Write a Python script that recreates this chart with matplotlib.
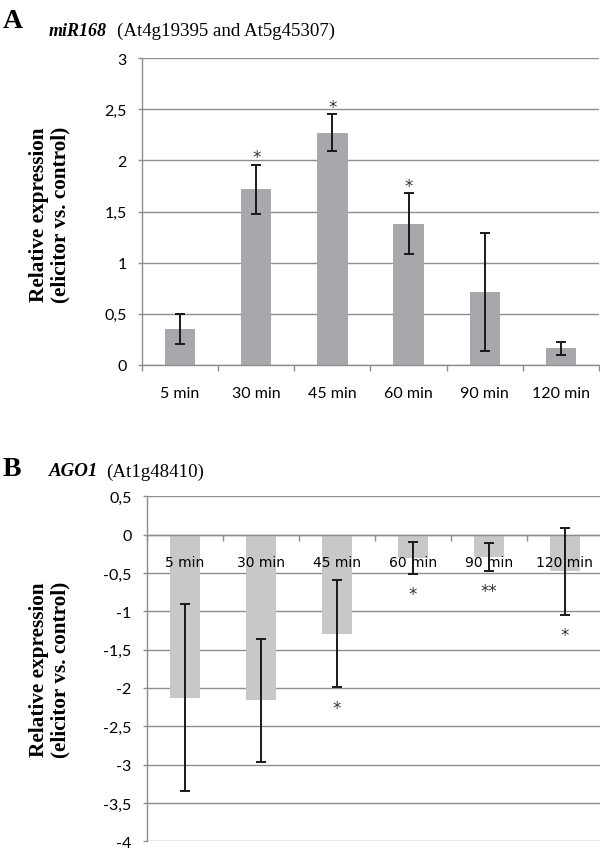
import matplotlib
matplotlib.use("Agg")
import matplotlib.pyplot as plt
import numpy as np

# values
times = ["5 min", "30 min", "45 min", "60 min", "90 min", "120 min"]

mir168 = [0.35, 1.72, 2.27, 1.38, 0.71, 0.16]
mir168_err = [0.145, 0.24, 0.18, 0.30, 0.58, 0.065]
mir168_sig = ["", "*", "*", "*", "", ""]
mir168_ticks = [0, 0.5, 1, 1.5, 2, 2.5, 3]
mir168_ticklabels = ["0", "0,5", "1", "1,5", "2", "2,5", "3"]

ago1 = [-2.13, -2.16, -1.29, -0.30, -0.29, -0.48]
ago1_err = [1.22, 0.80, 0.70, 0.21, 0.18, 0.565]
ago1_sig = ["", "", "*", "*", "**", "*"]
ago1_ticks = [-4, -3.5, -3, -2.5, -2, -1.5, -1, -0.5, 0, 0.5]
ago1_ticklabels = ["-4", "-3,5", "-3", "-2,5", "-2", "-1,5", "-1", "-0,5", "0", "0,5"]

TICK_FONT = "Lato"
SERIF = "Liberation Serif"
GRID = "#8e8e8e"

W, H = 600, 853
fig = plt.figure(figsize=(W / 100, H / 100), dpi=100)


def px_axes(left, top, right, bottom):
    return fig.add_axes([left / W, 1 - bottom / H, (right - left) / W, (bottom - top) / H])


def style_axes(ax, ticks, ticklabels, ylim):
    x = np.arange(len(times))
    ax.set_xlim(-0.5, len(times) - 0.5)
    ax.set_ylim(*ylim)
    ax.set_yticks(ticks)
    ax.set_yticklabels(ticklabels, fontfamily=TICK_FONT, fontsize=11.5)
    ax.set_xticks(np.arange(-0.5, len(times) + 0.5, 1.0))
    ax.set_xticklabels([])
    ax.set_xticks(x, minor=True)
    ax.set_xticklabels(times, minor=True, fontfamily=TICK_FONT, fontsize=11.5)
    ax.tick_params(axis="x", which="major", length=4, width=1, color=GRID, direction="out")
    ax.tick_params(axis="x", which="minor", length=0, pad=15)
    ax.tick_params(axis="y", length=3, width=1, color=GRID, pad=8)
    # gridlines drawn behind the bars, axis and tick labels on top of them
    for t in ticks:
        ax.axhline(t, color=GRID, linewidth=1, zorder=0.5)
    ax.set_axisbelow(False)
    for side in ("top", "right"):
        ax.spines[side].set_visible(False)
    for side in ("left", "bottom"):
        ax.spines[side].set_color(GRID)
        ax.spines[side].set_linewidth(1)


def star(ax, x, y, s):
    ax.text(x, y, s, ha="center", va="center", fontfamily="DejaVu Sans",
            fontsize=12, color="#333333", zorder=4)


# ---- panel A ----
ax_a = px_axes(142, 59.3, 599, 365.7)
xa = np.arange(len(times))
ax_a.bar(xa, mir168, width=0.4, color="#a7a8ab", zorder=2)
ax_a.errorbar(xa, mir168, yerr=mir168_err, fmt="none", ecolor="#1a1a1a",
              elinewidth=1.4, capsize=3.6, capthick=1.4, zorder=3)
for xi, v, e, s in zip(xa, mir168, mir168_err, mir168_sig):
    if s:
        star(ax_a, xi, v + e + 0.07, s)
style_axes(ax_a, mir168_ticks, mir168_ticklabels, (0, 3))

# ---- panel B ----
ax_b = px_axes(146.7, 497.3, 602.7, 842.3)
ax_b.bar(xa, ago1, width=0.4, color="#c7c8ca", zorder=2)
ax_b.errorbar(xa, ago1, yerr=ago1_err, fmt="none", ecolor="#1a1a1a",
              elinewidth=1.4, capsize=3.6, capthick=1.4, zorder=3)
for xi, v, e, s in zip(xa, ago1, ago1_err, ago1_sig):
    if s:
        star(ax_b, xi, v - e - 0.27, s)
style_axes(ax_b, ago1_ticks, ago1_ticklabels, (-4, 0.5))
ax_b.spines["bottom"].set_position(("data", 0))

# ---- labels and titles ----
ylab = "Relative expression\n(elicitor vs. control)"
fig.text(50 / W, 1 - 215 / H, ylab, rotation=90, ha="center", va="center",
         fontfamily=SERIF, fontweight="bold", fontsize=15.3, linespacing=1.1)
fig.text(50 / W, 1 - 670 / H, ylab, rotation=90, ha="center", va="center",
         fontfamily=SERIF, fontweight="bold", fontsize=15.3, linespacing=1.1)

fig.text(3 / W, 1 - 22 / H, "A", ha="left", va="center",
         fontfamily=SERIF, fontweight="bold", fontsize=20)
fig.text(49 / W, 1 - 31 / H, "miR168", ha="left", va="center",
         fontfamily=SERIF, fontweight="bold", fontstyle="italic", fontsize=13)
fig.text(117 / W, 1 - 31 / H, "(At4g19395 and At5g45307)", ha="left", va="center",
         fontfamily=SERIF, fontsize=13.6)

fig.text(3 / W, 1 - 470 / H, "B", ha="left", va="center",
         fontfamily=SERIF, fontweight="bold", fontsize=20)
fig.text(49 / W, 1 - 472 / H, "AGO1", ha="left", va="center",
         fontfamily=SERIF, fontweight="bold", fontstyle="italic", fontsize=13.6)
fig.text(106 / W, 1 - 472 / H, "(At1g48410)", ha="left", va="center",
         fontfamily=SERIF, fontsize=13.6)

fig.savefig("out.png", dpi=100)
